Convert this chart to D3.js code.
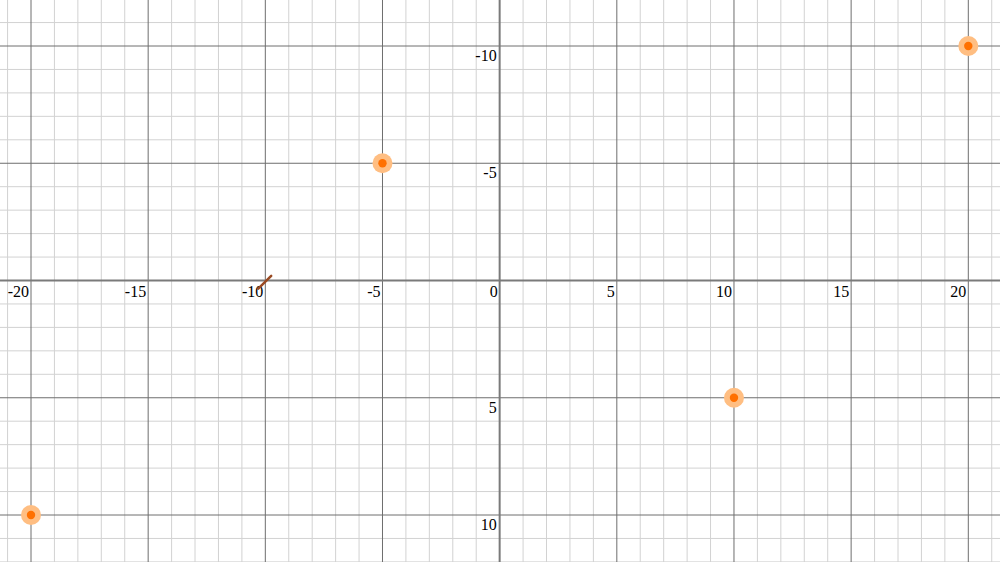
<!DOCTYPE html>
<html><head><meta charset="utf-8">
<script src="https://cdn.jsdelivr.net/npm/d3@7"></script>
<style>html,body{margin:0;padding:0;background:#fff;overflow:hidden}</style>
</head><body>
<svg id="c" width="1000" height="562"></svg>
<script>
const pointX = [-20, -5, 10, 20];
const pointY = [10, -5, 5, -10];
const segmentX = [-10.3, -9.75];
const segmentY = [0.35, -0.2];
const majorTicks = [-20, -15, -10, -5, 0, 5, 10, 15, 20];
const yMajorTicks = [-10, -5, 5, 10];

const W = 1000, H = 562;
const x = d3.scaleLinear().domain([-20, 20]).range([31, 968.3]);
const y = d3.scaleLinear().domain([-10, 10]).range([46, 515]);
const svg = d3.select("#c");

const xMin = Math.floor(x.invert(0)), xMax = Math.ceil(x.invert(W));
const yMin = Math.floor(y.invert(0)), yMax = Math.ceil(y.invert(H));
const minorX = d3.range(xMin, xMax + 1).filter(v => v % 5 !== 0);
const minorY = d3.range(yMin, yMax + 1).filter(v => v % 5 !== 0);
const majX = d3.range(xMin, xMax + 1).filter(v => v % 5 === 0 && v !== 0);
const majY = d3.range(yMin, yMax + 1).filter(v => v % 5 === 0 && v !== 0);

const g = svg.append("g");
g.selectAll(".mx").data(minorX).join("line").attr("x1", d => x(d)).attr("x2", d => x(d)).attr("y1", 0).attr("y2", H).attr("stroke", "#d2d2d2").attr("stroke-width", 1);
g.selectAll(".my").data(minorY).join("line").attr("y1", d => y(d)).attr("y2", d => y(d)).attr("x1", 0).attr("x2", W).attr("stroke", "#d2d2d2").attr("stroke-width", 1);
g.selectAll(".Mx").data(majX).join("line").attr("x1", d => x(d)).attr("x2", d => x(d)).attr("y1", 0).attr("y2", H).attr("stroke", "#6e6e6e").attr("stroke-width", 1);
g.selectAll(".My").data(majY).join("line").attr("y1", d => y(d)).attr("y2", d => y(d)).attr("x1", 0).attr("x2", W).attr("stroke", "#6e6e6e").attr("stroke-width", 1);
// axes
g.append("line").attr("x1", x(0)).attr("x2", x(0)).attr("y1", 0).attr("y2", H).attr("stroke", "#7a7a7a").attr("stroke-width", 2);
g.append("line").attr("y1", y(0)).attr("y2", y(0)).attr("x1", 0).attr("x2", W).attr("stroke", "#7a7a7a").attr("stroke-width", 2);

const font = "'Liberation Serif', 'Times New Roman', serif";
svg.selectAll(".xl").data(majorTicks).join("text")
  .attr("x", d => x(d) - 2).attr("y", y(0) + 16)
  .attr("text-anchor", "end").attr("font-family", font).attr("font-size", 16).attr("fill", "#000")
  .text(d => d);
svg.selectAll(".yl").data(yMajorTicks).join("text")
  .attr("x", x(0) - 3).attr("y", d => y(d) + 15)
  .attr("text-anchor", "end").attr("font-family", font).attr("font-size", 16).attr("fill", "#000")
  .text(d => d);

svg.append("line")
  .attr("x1", x(segmentX[0])).attr("y1", y(segmentY[0]))
  .attr("x2", x(segmentX[1])).attr("y2", y(segmentY[1]))
  .attr("stroke", "#9a4a22").attr("stroke-width", 2.5).attr("stroke-linecap", "round");

const pts = pointX.map((v, i) => ({ x: v, y: pointY[i] }));
svg.selectAll(".halo").data(pts).join("circle")
  .attr("cx", d => x(d.x)).attr("cy", d => y(d.y)).attr("r", 10)
  .attr("fill", "#ffbe82");
svg.selectAll(".dot").data(pts).join("circle")
  .attr("cx", d => x(d.x)).attr("cy", d => y(d.y)).attr("r", 4.2)
  .attr("fill", "#ff7000");
</script>
</body></html>
